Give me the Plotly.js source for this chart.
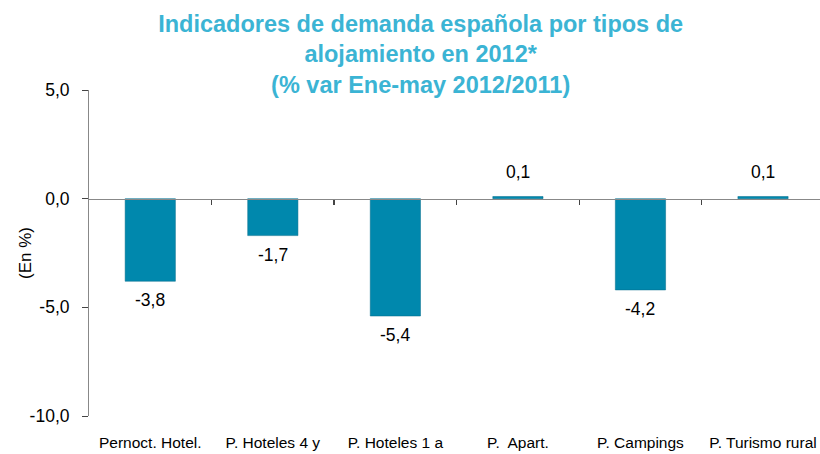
<!DOCTYPE html>
<html>
<head>
<meta charset="utf-8">
<script src="https://cdn.plot.ly/plotly-3.0.1.min.js"></script>
<style>html,body{margin:0;padding:0;background:#fff;}#chart{width:820px;height:454px;}</style>
</head>
<body>
<div id="chart"></div>
<script>
var categories = ["Pernoct. Hotel.", "P. Hoteles 4 y", "P. Hoteles 1 a", "P.  Apart.", "P. Campings", "P. Turismo rural"];
var values = [-3.8, -1.7, -5.4, 0.1, -4.2, 0.1];
var valueLabels = ["-3,8", "-1,7", "-5,4", "0,1", "-4,2", "0,1"];
var yTickVals = [5, 0, -5, -10];
var yTickText = ["5,0", "0,0", "-5,0", "-10,0"];
var boundaryTicks = [0.5, 1.5, 2.5, 3.5, 4.5];

var xIdx = categories.map(function(c, i){ return i; });
var FONT = '"Liberation Sans", Arial, sans-serif';

var trace = {
  type: 'bar',
  x: xIdx,
  y: values,
  marker: {color: '#0088AD', line: {color: '#006A88', width: 0.5}},
  width: 0.41,
  hoverinfo: 'none'
};

var valueAnnotations = values.map(function(v, i){
  var neg = v < 0;
  return {
    x: i, y: v, xref: 'x', yref: 'y',
    text: valueLabels[i], showarrow: false,
    xanchor: 'center', yanchor: neg ? 'top' : 'bottom',
    yshift: neg ? -7 : 12,
    font: {family: FONT, size: 17.5, color: '#000'}
  };
});

var layout = {
  width: 820, height: 454,
  margin: {l: 89, r: 0, t: 90, b: 38},
  paper_bgcolor: '#fff', plot_bgcolor: '#fff',
  showlegend: false,
  font: {family: FONT, size: 13, color: '#000'},
  title: {
    text: 'Indicadores de demanda española por tipos de<br>alojamiento en 2012*<br>(% var Ene-may 2012/2011)',
    font: {family: FONT, size: 23.5, color: '#3BB4D4', weight: 'bold'},
    x: 0.513, xanchor: 'center', yref: 'container', y: 0.93, yanchor: 'middle'
  },
  annotations: [{
    text: '(En %)', textangle: -90,
    xref: 'paper', yref: 'paper', x: (25 - 89) / 731, y: 0.5,
    xanchor: 'center', yanchor: 'middle', showarrow: false,
    font: {family: FONT, size: 17, color: '#000'}
  }].concat(valueAnnotations),
  xaxis: {
    range: [-0.5, 5.465],
    tickvals: xIdx,
    ticktext: categories,
    ticks: 'outside', ticklen: 12, tickcolor: 'rgba(0,0,0,0)',
    showline: false, showgrid: false, zeroline: false,
    tickangle: 0,
    tickfont: {family: FONT, size: 15.5, color: '#000'}
  },
  xaxis2: {
    overlaying: 'x', anchor: 'free', position: 10/15,
    range: [-0.5, 5.465],
    tickvals: boundaryTicks,
    showticklabels: false,
    ticks: 'outside', ticklen: 5, tickcolor: '#444', tickwidth: 1.3,
    showline: true, linecolor: '#888', linewidth: 1.5,
    showgrid: false, zeroline: false
  },
  yaxis: {
    range: [-10, 5],
    tickvals: yTickVals,
    ticktext: yTickText,
    ticks: 'outside', ticklen: 6, tickcolor: '#444',
    ticklabelstandoff: 9,
    showline: true, linecolor: '#888', linewidth: 1,
    showgrid: false, zeroline: false,
    tickfont: {family: FONT, size: 17.5, color: '#000'}
  }
};

var axisTrace = {type: 'scatter', x: [0], y: [0], xaxis: 'x2', mode: 'markers', marker: {opacity: 0}, hoverinfo: 'none', showlegend: false};

Plotly.newPlot('chart', [trace, axisTrace], layout, {staticPlot: true, displayModeBar: false});
</script>
</body>
</html>
